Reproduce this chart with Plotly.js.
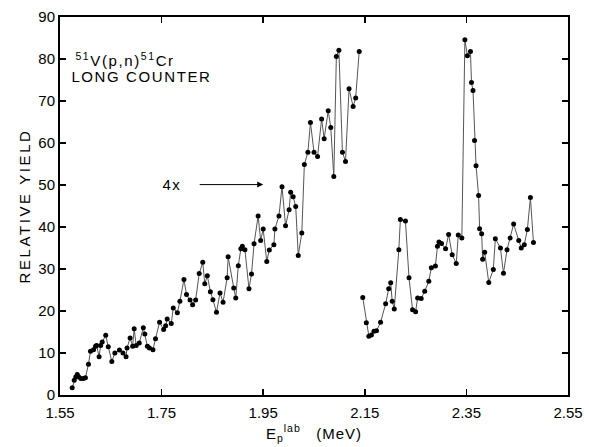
<!DOCTYPE html>
<html>
<head>
<meta charset="utf-8">
<script src="https://cdn.plot.ly/plotly-3.0.1.min.js"></script>
<style>html,body{margin:0;padding:0;background:#fff;}#chart{width:589px;height:447px;}</style>
</head>
<body>
<div id="chart"></div>
<script>
// Segment 1 (scaled 4x)
const energyLow = [1.574,1.578,1.581,1.584,1.587,1.591,1.596,1.600,1.606,1.610,1.616,1.620,1.622,1.627,1.630,1.633,1.640,1.645,1.652,1.658,1.667,1.674,1.680,1.682,1.688,1.693,1.696,1.700,1.706,1.714,1.717,1.722,1.726,1.733,1.738,1.746,1.754,1.758,1.761,1.769,1.773,1.781,1.786,1.794,1.799,1.806,1.811,1.817,1.824,1.831,1.835,1.840,1.846,1.851,1.858,1.865,1.871,1.879,1.881,1.892,1.896,1.901,1.906,1.909,1.914,1.922,1.927,1.932,1.940,1.945,1.950,1.957,1.962,1.971,1.973,1.981,1.987,1.994,2.001,2.004,2.009,2.014,2.019,2.026,2.031,2.038,2.043,2.050,2.057,2.065,2.070,2.078,2.083,2.089,2.094,2.099,2.106,2.112,2.119,2.127,2.132,2.139];
const yieldLow = [1.7,3.5,4.3,4.9,4.3,3.9,3.9,4.1,7.3,10.4,10.8,11.6,11.8,9.1,11.8,12.6,14.2,11.5,8.0,10.0,10.7,10.0,9.1,11.2,13.6,11.6,15.8,11.8,12.4,16.0,14.5,11.6,11.2,10.8,13.4,17.3,15.6,16.5,18.1,17.0,20.7,19.6,22.3,27.5,23.9,22.6,21.5,22.6,28.9,31.6,26.5,28.4,24.6,22.7,19.7,24.3,22.1,27.9,32.9,25.5,23.1,30.8,34.8,35.4,34.6,25.3,28.8,36.0,42.6,36.8,39.5,31.8,34.5,35.8,39.5,42.6,49.6,40.3,44.1,48.3,47.2,44.9,33.2,38.6,54.9,57.8,64.9,57.8,56.8,65.7,61.0,67.7,63.7,52.0,80.6,82.1,57.8,55.6,72.9,68.7,70.7,81.8];
// Segment 2
const energyHigh = [2.146,2.153,2.158,2.163,2.168,2.173,2.181,2.191,2.197,2.201,2.204,2.208,2.217,2.220,2.230,2.237,2.244,2.250,2.254,2.261,2.268,2.276,2.281,2.289,2.293,2.296,2.301,2.309,2.315,2.322,2.330,2.334,2.341,2.347,2.352,2.358,2.360,2.363,2.366,2.369,2.374,2.376,2.380,2.382,2.386,2.394,2.403,2.407,2.417,2.423,2.430,2.436,2.443,2.453,2.458,2.464,2.470,2.476,2.482];
const yieldHigh = [23.2,17.2,14.0,14.3,15.2,15.3,17.3,21.7,25.3,26.7,22.3,20.5,34.6,41.8,41.4,27.9,20.3,19.8,23.1,23.0,24.7,27.1,30.3,30.7,35.4,36.4,36.1,34.8,38.2,33.4,31.3,38.1,37.4,84.6,80.8,81.8,74.4,72.5,60.6,54.6,47.5,39.6,38.4,32.3,34.0,26.8,29.9,37.2,35.0,29.0,34.6,37.4,40.7,36.8,35.0,35.8,39.4,47.0,36.3];
const xTickVals = [1.55,1.75,1.95,2.15,2.35,2.55];
const xTickText = ["1.55","1.75","1.95","2.15","2.35","2.55"];
const yTickVals = [0,10,20,30,40,50,60,70,80,90];

const FONT = "Liberation Sans, DejaVu Sans, sans-serif";
const lineStyle = {color:'#555', width:1};
const markerStyle = {color:'#000', size:5};

const traces = [
  {x: energyLow, y: yieldLow, mode:'lines+markers', line: lineStyle, marker: markerStyle, showlegend:false, hoverinfo:'x+y'},
  {x: energyHigh, y: yieldHigh, mode:'lines+markers', line: lineStyle, marker: markerStyle, showlegend:false, hoverinfo:'x+y'}
];

const axisCommon = {
  showgrid:false, zeroline:false, showline:true, linecolor:'#000', linewidth:2,
  mirror:'ticks', ticks:'inside', ticklen:6, tickwidth:1.5, tickcolor:'#000',
  tickfont:{family:FONT, size:15, color:'#000'}
};

const layout = {
  width:589, height:447,
  margin:{l:60, r:21, t:17, b:52, pad:0},
  paper_bgcolor:'#fff', plot_bgcolor:'#fff',
  font:{family:FONT, color:'#000'},
  xaxis: Object.assign({}, axisCommon, {
    range:[1.55,2.55], tickvals:xTickVals, ticktext:xTickText, automargin:false,
    ticklabelstandoff:3,
    title:{text:'E<sub>p</sub><sup>lab</sup>   (MeV)', font:{family:FONT, size:15, color:'#000'}, standoff:8}
  }),
  yaxis: Object.assign({}, axisCommon, {
    range:[0,90], tickvals:yTickVals, automargin:false,
    title:{text:'RELATIVE YIELD', font:{family:FONT, size:15, color:'#000'}, standoff:4}
  }),
  annotations:[
    {x:1.595, y:79.9, xref:'x', yref:'y', xanchor:'left', yanchor:'middle', showarrow:false,
     text:'<sup>51</sup>V(p,n)<sup>51</sup>Cr', font:{family:FONT, size:15, color:'#000'}},
    {x:1.587, y:75.8, xref:'x', yref:'y', xanchor:'left', yanchor:'middle', showarrow:false,
     text:'LONG COUNTER', font:{family:FONT, size:15, color:'#000'}},
    {x:1.770, y:50.1, xref:'x', yref:'y', xanchor:'center', yanchor:'middle', showarrow:false,
     text:'4x', font:{family:FONT, size:15, color:'#000'}},
    {x:1.950, y:50.1, xref:'x', yref:'y', ax:1.822, ay:50.1, axref:'x', ayref:'y',
     showarrow:true, arrowhead:2, arrowsize:1.2, arrowwidth:1, arrowcolor:'#000', text:''}
  ]
};

Plotly.newPlot('chart', traces, layout, {displayModeBar:false, staticPlot:true}).then(function(gd){
  // wider letter spacing, like the lettering-guide text of the original
  gd.querySelectorAll('.g-ytitle text').forEach(function(t){ t.style.letterSpacing = '2.6px'; });
  gd.querySelectorAll('.g-xtitle text').forEach(function(t){ t.style.letterSpacing = '1px'; });
  gd.querySelectorAll('.annotation-text').forEach(function(t){ t.style.letterSpacing = '1.6px'; });
});
</script>
</body>
</html>
